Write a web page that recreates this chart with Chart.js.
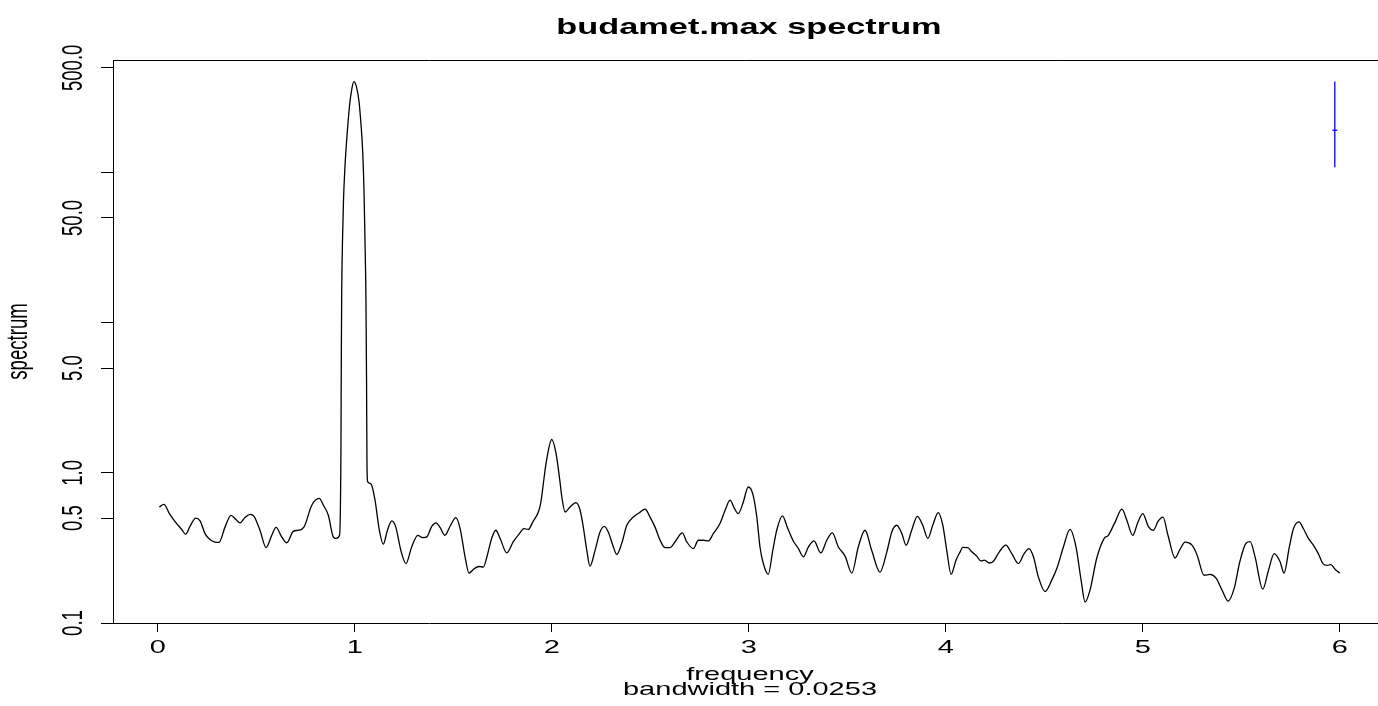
<!DOCTYPE html>
<html>
<head>
<meta charset="utf-8">
<title>budamet.max spectrum</title>
<script src="https://cdn.jsdelivr.net/npm/chart.js@4.4.1/dist/chart.umd.min.js"></script>
<style>
  html, body { margin: 0; padding: 0; background: #fff; overflow: hidden; }
  canvas { display: block; }
</style>
</head>
<body>
<canvas id="spec" width="1378" height="706"></canvas>
<script>
// smoothed periodogram of budamet.max (log scale)
const freq = [
  0.008, 0.032, 0.059, 0.096, 0.122, 0.142, 0.164, 0.193, 0.215, 0.240,
  0.265, 0.291, 0.311, 0.342, 0.372, 0.397, 0.418, 0.443, 0.469, 0.489,
  0.519, 0.550, 0.579, 0.601, 0.629, 0.655, 0.688, 0.714, 0.743, 0.782,
  0.820, 0.841, 0.866, 0.891, 0.905, 0.923, 0.930, 0.932, 0.934, 0.938,
  0.943, 0.951, 0.961, 0.974, 0.986, 0.996, 1.009, 1.022, 1.032, 1.040,
  1.047, 1.052, 1.057, 1.060, 1.062, 1.065, 1.074, 1.086, 1.103, 1.125,
  1.145, 1.166, 1.188, 1.208, 1.234, 1.260, 1.289, 1.320, 1.345, 1.366,
  1.391, 1.413, 1.433, 1.458, 1.484, 1.513, 1.535, 1.560, 1.580, 1.606,
  1.632, 1.653, 1.673, 1.695, 1.716, 1.738, 1.772, 1.805, 1.836, 1.859,
  1.881, 1.904, 1.932, 1.944, 1.971, 2.000, 2.022, 2.042, 2.051, 2.068,
  2.093, 2.123, 2.144, 2.160, 2.178, 2.194, 2.220, 2.245, 2.267, 2.287,
  2.313, 2.330, 2.355, 2.381, 2.414, 2.445, 2.474, 2.499, 2.524, 2.550,
  2.575, 2.600, 2.626, 2.663, 2.685, 2.719, 2.744, 2.770, 2.795, 2.820,
  2.854, 2.880, 2.905, 2.927, 2.947, 2.970, 2.998, 3.020, 3.041, 3.057,
  3.074, 3.099, 3.122, 3.142, 3.171, 3.198, 3.226, 3.252, 3.277, 3.303,
  3.331, 3.366, 3.396, 3.424, 3.455, 3.489, 3.523, 3.556, 3.590, 3.624,
  3.666, 3.701, 3.726, 3.751, 3.777, 3.799, 3.827, 3.856, 3.883, 3.909,
  3.934, 3.962, 3.985, 4.005, 4.027, 4.052, 4.073, 4.086, 4.112, 4.132,
  4.157, 4.178, 4.196, 4.221, 4.242, 4.272, 4.305, 4.335, 4.369, 4.398,
  4.423, 4.445, 4.470, 4.504, 4.538, 4.566, 4.597, 4.631, 4.661, 4.687,
  4.707, 4.732, 4.766, 4.804, 4.825, 4.860, 4.894, 4.919, 4.949, 4.973,
  5.000, 5.028, 5.054, 5.078, 5.103, 5.128, 5.164, 5.189, 5.215, 5.250,
  5.276, 5.311, 5.342, 5.372, 5.403, 5.433, 5.464, 5.492, 5.524, 5.545,
  5.570, 5.609, 5.638, 5.667, 5.697, 5.717, 5.744, 5.765, 5.793, 5.815,
  5.841, 5.866, 5.891, 5.914, 5.937, 5.954, 5.976, 6.000
];
const spec = [
  0.593, 0.618, 0.536, 0.460, 0.420, 0.390, 0.441, 0.500, 0.479, 0.394,
  0.360, 0.346, 0.344, 0.437, 0.522, 0.489, 0.465, 0.504, 0.530, 0.514,
  0.415, 0.318, 0.384, 0.433, 0.375, 0.342, 0.408, 0.415, 0.437, 0.609,
  0.676, 0.609, 0.522, 0.375, 0.366, 0.384, 1.42, 6.58, 16.5, 35.6,
  65.8, 113, 178, 283, 367, 405, 373, 296, 208, 142,
  76.7, 35.6, 14.2, 4.15, 1.22, 0.880, 0.855, 0.828, 0.658, 0.415,
  0.335, 0.415, 0.479, 0.437, 0.305, 0.249, 0.321, 0.384, 0.370, 0.375,
  0.441, 0.465, 0.433, 0.384, 0.441, 0.504, 0.426, 0.276, 0.215, 0.230,
  0.238, 0.236, 0.283, 0.366, 0.415, 0.366, 0.293, 0.348, 0.394, 0.426,
  0.420, 0.472, 0.549, 0.630, 1.154, 1.670, 1.346, 0.871, 0.694, 0.549,
  0.593, 0.634, 0.564, 0.437, 0.305, 0.239, 0.305, 0.404, 0.441, 0.404,
  0.321, 0.286, 0.338, 0.448, 0.508, 0.543, 0.574, 0.508, 0.437, 0.356,
  0.318, 0.318, 0.348, 0.398, 0.348, 0.313, 0.356, 0.356, 0.352, 0.394,
  0.460, 0.564, 0.658, 0.580, 0.536, 0.626, 0.806, 0.728, 0.508, 0.321,
  0.249, 0.211, 0.305, 0.415, 0.517, 0.426, 0.352, 0.313, 0.276, 0.321,
  0.352, 0.293, 0.356, 0.398, 0.321, 0.279, 0.215, 0.321, 0.415, 0.305,
  0.218, 0.298, 0.404, 0.448, 0.394, 0.330, 0.415, 0.514, 0.448, 0.366,
  0.448, 0.543, 0.448, 0.305, 0.211, 0.262, 0.298, 0.319, 0.318, 0.298,
  0.279, 0.259, 0.262, 0.251, 0.258, 0.298, 0.330, 0.290, 0.249, 0.290,
  0.313, 0.276, 0.203, 0.162, 0.193, 0.235, 0.321, 0.420, 0.321, 0.193,
  0.138, 0.165, 0.269, 0.366, 0.384, 0.472, 0.573, 0.484, 0.384, 0.460,
  0.536, 0.441, 0.415, 0.477, 0.508, 0.384, 0.271, 0.310, 0.346, 0.330,
  0.283, 0.208, 0.211, 0.199, 0.165, 0.140, 0.170, 0.254, 0.340, 0.348,
  0.276, 0.168, 0.224, 0.290, 0.256, 0.215, 0.321, 0.426, 0.472, 0.426,
  0.366, 0.330, 0.290, 0.249, 0.242, 0.245, 0.228, 0.215
];

// confidence interval bar, drawn at max freq - bandwidth
const bandwidth = 0.0253;
const ciLow = 109;
const ciMid = 192;
const ciHigh = Math.max(...spec);

const xTicks = [0, 1, 2, 3, 4, 5, 6];
const yTicks = [0.1, 0.5, 1, 5, 10, 50, 100, 500];
const yTickLabels = ["0.1", "0.5", "1.0", "5.0", "", "50.0", "", "500.0"];

const mainTitle = "budamet.max spectrum";
const xTitle = "frequency";
const subTitle = "bandwidth = " + bandwidth;
const yTitle = "spectrum";

const FONT = "'Liberation Sans', Arial, Helvetica, sans-serif";
const STRETCH = 1.56;   // text is wide in this plot

function wideText(ctx, text, x, y, size, bold, rotated) {
  ctx.save();
  ctx.translate(x, y);
  ctx.scale(STRETCH, 1);
  if (rotated) ctx.rotate(-Math.PI / 2);
  ctx.font = (bold ? "bold " : "") + size + "px " + FONT;
  ctx.fillStyle = "#000";
  ctx.textAlign = "center";
  ctx.textBaseline = "alphabetic";
  ctx.fillText(text, 0, 0);
  ctx.restore();
}

// frame, tick labels and titles in R style
const rFrame = {
  id: "rFrame",
  afterDraw(chart) {
    const { ctx, chartArea: a, scales } = chart;
    ctx.save();
    ctx.strokeStyle = "#000";
    ctx.lineWidth = 1;
    ctx.beginPath();
    ctx.moveTo(a.left + 0.5, a.bottom + 0.5);
    ctx.lineTo(a.left + 0.5, a.top + 0.5);
    ctx.lineTo(chart.width, a.top + 0.5);
    ctx.stroke();
    ctx.restore();

    xTicks.forEach(v => {
      wideText(ctx, String(v), scales.x.getPixelForValue(v), 653, 18.6, false, false);
    });
    yTicks.forEach((v, i) => {
      if (!yTickLabels[i]) return;
      wideText(ctx, yTickLabels[i], 82, scales.y.getPixelForValue(v), 18.6, false, true);
    });

    wideText(ctx, mainTitle, 749, 34, 22, true, false);
    wideText(ctx, xTitle, 750, 680, 18.6, false, false);
    wideText(ctx, subTitle, 750, 695, 18.6, false, false);
    wideText(ctx, yTitle, 27, (a.top + a.bottom) / 2, 18.6, false, true);
  }
};

const confX = freq[freq.length - 1] - bandwidth;

new Chart(document.getElementById("spec"), {
  type: "line",
  data: {
    datasets: [
      {
        data: freq.map((f, i) => ({ x: f, y: spec[i] })),
        borderColor: "#000",
        borderWidth: 1.3,
        pointRadius: 0,
        cubicInterpolationMode: "monotone",
        fill: false
      },
      {
        data: [{ x: confX, y: ciLow }, { x: confX, y: ciHigh }],
        borderColor: "#0000ff",
        borderWidth: 1.3,
        pointRadius: 0
      },
      {
        data: [{ x: confX - bandwidth / 2, y: ciMid }, { x: confX + bandwidth / 2, y: ciMid }],
        borderColor: "#0000ff",
        borderWidth: 1.3,
        pointRadius: 0
      }
    ]
  },
  options: {
    responsive: false,
    animation: false,
    events: [],
    layout: { padding: { top: 60, right: 0, bottom: 0, left: 0 } },
    plugins: { legend: { display: false }, tooltip: { enabled: false } },
    scales: {
      x: {
        type: "linear",
        min: -0.227,
        max: 6.194,
        afterBuildTicks: s => { s.ticks = xTicks.map(v => ({ value: v })); },
        afterFit: s => { s.height = 83; },
        ticks: { display: false },
        grid: { drawOnChartArea: false, drawTicks: true, tickLength: 9, color: "#000" },
        border: { display: true, color: "#000", width: 1 }
      },
      y: {
        type: "logarithmic",
        min: 0.1,
        max: 564,
        afterBuildTicks: s => { s.ticks = yTicks.map(v => ({ value: v })); },
        afterFit: s => { s.width = 113; },
        ticks: { display: false },
        grid: { drawOnChartArea: false, drawTicks: true, tickLength: 12, color: "#000" },
        border: { display: true, color: "#000", width: 1 }
      }
    }
  },
  plugins: [rFrame]
});
</script>
</body>
</html>
